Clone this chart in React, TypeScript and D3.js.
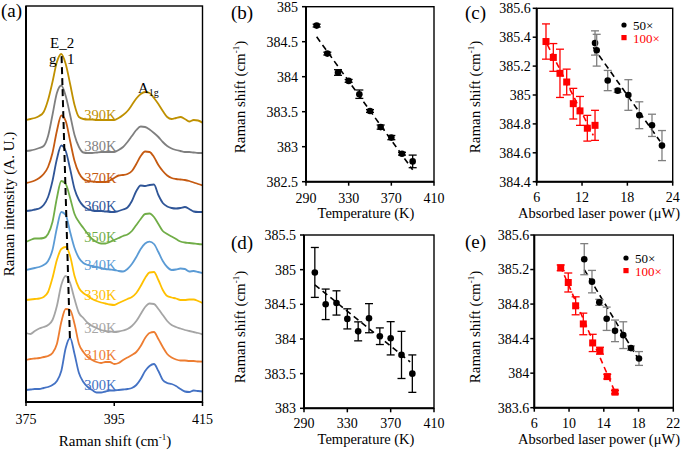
import React from 'react';
import * as d3 from 'd3';

const FONT = '"Liberation Serif", "Times New Roman", Times, serif';

// ---------- (a) stacked Raman spectra ----------
const shiftGrid = [
  375, 376, 377, 378, 379, 380, 381, 382, 383, 384, 385, 386, 387, 388, 389, 390, 391, 392, 393, 394, 395,
  396, 397, 398, 399, 400, 401, 402, 403, 404, 405, 406, 407, 408, 409, 410, 411, 412, 413, 414, 415,
];
const tempLabels = ['300K', '310K', '320K', '330K', '340K', '350K', '360K', '370K', '380K', '390K'];
const tempColors = ['#4472C4', '#ED7D31', '#A5A5A5', '#FFC000', '#5B9BD5', '#70AD47', '#2F5597', '#C55A11', '#7F7F7F', '#BF9000'];
const stackOffsets = [12, 42, 69, 102, 132, 160, 191, 219, 251, 282];

const spec300 = [0, 0.5, 1, 1, 2, 3, 5, 9, 19, 42, 52, 36, 17, 8, 3, 0, -2.5, -2.5, -1.5, -0.5, -0.5, 0, 0.5, 1, 2, 5, 11, 19, 24, 26, 19, 10, 7, 6, 4, 1, -1.5, -2, -0.5, -1, -1.5];
const spec310 = [0, 1, 1.5, 2, 3, 4, 7, 16, 38, 51, 50, 36, 16, 8, 3, 0, -2, -3, -2, -2, -4, -3, 0, 2.5, 5, 8, 14, 22, 27, 28, 21, 13, 6, 2.5, 0.5, -0.5, -0.5, -1, -1, -1.5, -1.7];
const spec320 = [0, -1, 2, 4.5, 6, 8, 13, 27, 48, 57, 50, 34, 20, 15, 10, 7, 5, 3, 2, 1.5, 1, 1.5, 2.5, 4, 7, 12, 19, 26, 29.5, 29, 24, 18, 12, 8, 6, 4.5, 3, 2, 1, 0, -1.3];
const spec330 = [0, 0.5, 1, 1.5, 3, 8, 22, 40, 51, 53, 44, 24, 12, 7, 4, 1, -1, -2.5, -3.5, -4.5, -5, -3, -1, 1, 3, 7, 14, 22, 27.5, 28, 20, 10, 4, 2.5, 1.5, 0, 0, 0.5, 0.5, -1, -3];
const spec340 = [0, 1, 2, 3, 5, 9, 20, 42, 58, 55, 38, 22, 12, 7, 5, 4, 3, 2, 1, 0.5, 0, -1, -1.5, 1, 6, 13, 21, 26.5, 28.3, 26, 18, 9, 3, 0, 0.5, 1.5, 1, -1.5, -1, -2, -3];
const spec350 = [0, 2, 3.5, 3.5, 4, 8, 20, 44, 61, 58, 44, 28, 20, 14, 8, 3, 0, -1.5, -1.5, 0, 2, 4, 6, 7.5, 11, 17, 23, 28, 28.5, 25, 18, 11, 8, 5.5, 3, 0.5, -0.5, -1, -1.5, -2, -2.3];
const spec360 = [0, 0.5, 1.5, 2.5, 6, 14, 30, 52, 65.5, 60, 42, 22, 11, 5, 2, 0.5, 0, 0, -0.5, -1, -1, 0, 1.5, 3.5, 10, 20, 25.5, 25, 26, 26.5, 16, 8, 4.5, 3, 2.5, 3, 4, 2, -0.5, -1, -1];
const spec370 = [0, 1, 2.5, 5, 9, 16, 30, 52, 67.5, 62, 42, 22, 10, 4, 2, 1.5, 1, 1, 1, 2.5, 5, 7.5, 8, 9, 12, 19, 27, 31.5, 31, 26, 18, 12, 7.5, 5, 4, 3.5, 3, 2, 0.5, -1, -2.3];
const spec380 = [0, 0.5, 1.5, 3, 5, 15, 36, 58, 65.5, 55, 36, 16, 4, -1.5, -2, -2, -1.5, -1, -1, -1, -1, 1, 4, 9, 15, 21, 24.5, 24, 21.5, 18, 14, 9, 5, 2.5, 1, 0, -1, -1, -1.5, -2, -2];
const spec390 = [0, 1, 2, 4, 8, 20, 38, 58, 66, 56, 36, 15, 3, 1, 0.5, 0.5, 0, 0, 0, 0, 0, 2, 5, 9, 15, 21.5, 26, 28, 27, 22, 16, 9, 3, 1, 2, 3, 1, -1.5, 0, -0.5, -2.7];
const spectra = [spec300, spec310, spec320, spec330, spec340, spec350, spec360, spec370, spec380, spec390];

const peakTrackShift = [384.95, 383.05];
const peakTrackLevel = [64, 348];
const xTicksA = [375, 395, 415];

// ---------- (b) temperature series ----------
const tempsB = [300, 310, 320, 330, 340, 350, 360, 370, 380, 390];
const shiftB = [384.73, 384.33, 384.06, 383.94, 383.75, 383.51, 383.28, 383.13, 382.9, 382.79];
const errB = [0.02, 0.02, 0.04, 0.02, 0.06, 0.02, 0.03, 0.03, 0.02, 0.09];
const fitB_T = [300, 390];
const fitB_S = [384.57, 382.67];
const yTicksB = [382.5, 383, 383.5, 384, 384.5, 385];
const xTicksT = [290, 330, 370, 410];

// ---------- (c) laser power series ----------
const powC50 = [13.72, 13.94, 15.4, 16.72, 18.13, 19.58, 21.26, 22.58];
const shiftC50 = [385.36, 385.31, 385.1, 385.03, 385.0, 384.86, 384.79, 384.65];
const errC50 = [0.084, 0.11, 0.07, 0.012, 0.106, 0.093, 0.077, 0.104];
const powC100 = [7.23, 8.2, 9.08, 9.97, 10.84, 11.73, 12.7, 13.72];
const shiftC100 = [385.37, 385.26, 385.15, 385.09, 384.94, 384.89, 384.77, 384.79];
const errC100 = [0.122, 0.096, 0.167, 0.089, 0.106, 0.1, 0.089, 0.104];
const fitC50_P = [13.49, 22.32];
const fitC50_S = [385.33, 384.68];
const fitC100_P = [7.4, 13.49];
const fitC100_S = [385.35, 384.72];
const yTicksC = [384.4, 384.6, 384.8, 385, 385.2, 385.4, 385.6];
const xTicksC = [6, 12, 18, 24];

// ---------- (d) temperature series ----------
const tempsD = [300, 310, 320, 330, 340, 350, 360, 370, 380, 390];
const shiftD = [384.96, 384.5, 384.52, 384.29, 384.11, 384.3, 384.04, 384.01, 383.77, 383.5];
const errD = [0.36, 0.22, 0.175, 0.145, 0.137, 0.21, 0.12, 0.24, 0.34, 0.27];
const fitD_T = [300, 388];
const fitD_S = [384.78, 383.67];
const yTicksD = [383, 383.5, 384, 384.5, 385, 385.5];

// ---------- (e) laser power series ----------
const powE50 = [11.75, 12.64, 13.48, 14.33, 15.29, 16.24, 17.13, 18.05];
const shiftE50 = [385.32, 385.06, 384.82, 384.63, 384.49, 384.44, 384.29, 384.17];
const errE50 = [0.18, 0.13, 0.035, 0.135, 0.125, 0.155, 0.025, 0.08];
const powE100 = [9.04, 9.91, 10.76, 11.64, 12.72, 13.56, 14.4, 15.29];
const shiftE100 = [385.22, 385.05, 384.78, 384.57, 384.35, 384.26, 383.96, 383.78];
const errE100 = [0.033, 0.11, 0.104, 0.125, 0.1, 0.04, 0.027, 0.02];
const fitE50_P = [11.75, 18.05];
const fitE50_S = [385.2, 384.15];
const fitE100_P = [9.0, 15.3];
const fitE100_S = [385.24, 383.78];
const yTicksE = [383.6, 384, 384.4, 384.8, 385.2, 385.6];
const xTicksE = [6, 10, 14, 18, 22];

const legendLabels = ['50×', '100×'];

type Lin = d3.ScaleLinear<number, number>;

function Frame({ x, y }: { x: Lin; y: Lin }) {
  const [x0, x1] = x.range();
  const [y0, y1] = y.range();
  return (
    <g>
      <rect x={x0} y={y1} width={x1 - x0} height={y0 - y1} fill="none" stroke="#000" strokeWidth={1.4} />
      <line x1={x0} x2={x0} y1={y1} y2={y0 + 1} stroke="#000" strokeWidth={2} />
      <line x1={x0 - 1} x2={x1} y1={y0} y2={y0} stroke="#000" strokeWidth={2} />
    </g>
  );
}

function XAxis({ x, y, ticks, labelY }: { x: Lin; y: Lin; ticks: number[]; labelY: number }) {
  const y0 = y.range()[0];
  return (
    <g>
      {ticks.map((t) => (
        <g key={t}>
          <line x1={x(t)} x2={x(t)} y1={y0} y2={y0 + 4} stroke="#000" strokeWidth={1.5} />
          <text x={x(t)} y={labelY} textAnchor="middle" fontSize={14}>{String(t)}</text>
        </g>
      ))}
    </g>
  );
}

function YAxis({ x, y, ticks, gap }: { x: Lin; y: Lin; ticks: number[]; gap: number }) {
  const x0 = x.range()[0];
  return (
    <g>
      {ticks.map((t) => (
        <g key={t}>
          <line x1={x0 - 4} x2={x0} y1={y(t)} y2={y(t)} stroke="#000" strokeWidth={1.5} />
          <text x={x0 - gap} y={y(t)} dy="0.35em" textAnchor="end" fontSize={14}>{String(t)}</text>
        </g>
      ))}
    </g>
  );
}

function ErrSeries({ x, y, xs, ys, es, color, barColor, square }: {
  x: Lin; y: Lin; xs: number[]; ys: number[]; es: number[]; color: string; barColor: string; square?: boolean;
}) {
  return (
    <g>
      {xs.map((v, i) => {
        const cx = x(v);
        const top = y(ys[i] + es[i]);
        const bot = y(ys[i] - es[i]);
        return (
          <g key={i}>
            <line x1={cx} x2={cx} y1={top} y2={bot} stroke={barColor} strokeWidth={1.3} />
            <line x1={cx - 4} x2={cx + 4} y1={top} y2={top} stroke={barColor} strokeWidth={1.3} />
            <line x1={cx - 4} x2={cx + 4} y1={bot} y2={bot} stroke={barColor} strokeWidth={1.3} />
            {square ? (
              <rect x={cx - 3.5} y={y(ys[i]) - 3.5} width={7} height={7} fill={color} />
            ) : (
              <circle cx={cx} cy={y(ys[i])} r={3.3} fill={color} />
            )}
          </g>
        );
      })}
    </g>
  );
}

function Fit({ x, y, xs, ys, color }: { x: Lin; y: Lin; xs: number[]; ys: number[]; color: string }) {
  const line = d3.line<number>().x((v) => x(v)).y((_, i) => y(ys[i]));
  return <path d={line(xs) || ''} fill="none" stroke={color} strokeWidth={1.6} strokeDasharray="6,4" />;
}

function CmTitle({ x, y }: { x: number; y: number }) {
  return (
    <text transform={`translate(${x},${y}) rotate(-90)`} textAnchor="middle" fontSize={15}>
      Raman shift (cm<tspan fontSize={9} dy={-6}>-1</tspan><tspan dy={6}>)</tspan>
    </text>
  );
}

function Legend({ x, y }: { x: number; y: number }) {
  return (
    <g>
      <circle cx={x} cy={y} r={2.6} fill="#000" />
      <text x={x + 9} y={y + 4.5} fontSize={13}>{legendLabels[0]}</text>
      <rect x={x - 2.6} y={y + 10} width={5.2} height={5.2} fill="#FF0000" />
      <text x={x + 9} y={y + 18} fontSize={13} fill="#FF0000">{legendLabels[1]}</text>
    </g>
  );
}

export default function App() {
  // (a)
  const xA = d3.scaleLinear().domain([375, 415]).range([26, 202.5]);
  const yA = d3.scaleLinear().domain([0, 396]).range([402, 6]);
  // (b)
  const xB = d3.scaleLinear().domain([290, 410]).range([306, 434]);
  const yB = d3.scaleLinear().domain([382.5, 385]).range([181.7, 6.7]);
  // (c)
  const xC = d3.scaleLinear().domain([6, 24]).range([536.7, 672.7]);
  const yC = d3.scaleLinear().domain([384.4, 385.6]).range([181.7, 8.3]);
  // (d)
  const xD = d3.scaleLinear().domain([290, 410]).range([304, 434]);
  const yD = d3.scaleLinear().domain([383, 385.5]).range([408.3, 235]);
  // (e)
  const xE = d3.scaleLinear().domain([6, 22]).range([534.3, 673.3]);
  const yE = d3.scaleLinear().domain([383.6, 385.6]).range([407.7, 235]);

  const specLine = (vals: number[], off: number) =>
    d3.line<number>()
      .x((_, i) => xA(shiftGrid[i]))
      .y((v) => yA(off + v))
      .curve(d3.curveMonotoneX)(vals) || '';

  const track = d3.line<number>().x((v) => xA(v)).y((_, i) => yA(peakTrackLevel[i]));

  return (
    <svg
      width={685}
      height={453}
      style={{ position: 'absolute', left: 0, top: 0, background: '#fff', fontFamily: FONT }}
    >
      <rect width={685} height={453} fill="#fff" />

      {/* (a) */}
      {spectra.map((s, i) => (
        <path key={i} d={specLine(s, stackOffsets[i])} fill="none" stroke={tempColors[i]} strokeWidth={1.8} />
      ))}
      <path d={track(peakTrackShift) || ''} fill="none" stroke="#000" strokeWidth={2} strokeDasharray="7,4" />
      {tempLabels.map((t, i) => (
        <text key={t} x={xA(388.2)} y={yA(stackOffsets[i])} fontSize={14.5} fill={tempColors[i]}>{t}</text>
      ))}
      <text x={50} y={48} fontSize={15}>E_2</text>
      <text x={49} y={64} fontSize={15}>g</text>
      <text x={67} y={64} fontSize={15}>1</text>
      <text x={138} y={93} fontSize={15}>A<tspan fontSize={10} dy={3}>1g</tspan></text>
      <Frame x={xA} y={yA} />
      <XAxis x={xA} y={yA} ticks={xTicksA} labelY={424} />
      <text x={115} y={446} textAnchor="middle" fontSize={15}>
        Raman shift (cm<tspan fontSize={9} dy={-6}>-1</tspan><tspan dy={6}>)</tspan>
      </text>
      <text transform="translate(14,204) rotate(-90)" textAnchor="middle" fontSize={15}>Raman intensity (A. U.)</text>
      <text x={1} y={17} fontSize={19}>(a)</text>

      {/* (b) */}
      <Fit x={xB} y={yB} xs={fitB_T} ys={fitB_S} color="#000" />
      <ErrSeries x={xB} y={yB} xs={tempsB} ys={shiftB} es={errB} color="#000" barColor="#000" />
      <Frame x={xB} y={yB} />
      <YAxis x={xB} y={yB} ticks={yTicksB} gap={8} />
      <XAxis x={xB} y={yB} ticks={xTicksT} labelY={202.5} />
      <text x={366} y={218} textAnchor="middle" fontSize={14.5}>Temperature (K)</text>
      <CmTitle x={245} y={97} />
      <text x={231} y={19} fontSize={19}>(b)</text>

      {/* (c) */}
      <Fit x={xC} y={yC} xs={fitC50_P} ys={fitC50_S} color="#000" />
      <Fit x={xC} y={yC} xs={fitC100_P} ys={fitC100_S} color="#FF0000" />
      <ErrSeries x={xC} y={yC} xs={powC100} ys={shiftC100} es={errC100} color="#FF0000" barColor="#FF0000" square />
      <ErrSeries x={xC} y={yC} xs={powC50} ys={shiftC50} es={errC50} color="#000" barColor="#7F7F7F" />
      <Legend x={624} y={25} />
      <Frame x={xC} y={yC} />
      <YAxis x={xC} y={yC} ticks={yTicksC} gap={6} />
      <XAxis x={xC} y={yC} ticks={xTicksC} labelY={202} />
      <text x={599} y={218} textAnchor="middle" fontSize={14.5}>Absorbed laser power (μW)</text>
      <CmTitle x={480} y={97} />
      <text x={465} y={19} fontSize={19}>(c)</text>

      {/* (d) */}
      <Fit x={xD} y={yD} xs={fitD_T} ys={fitD_S} color="#000" />
      <ErrSeries x={xD} y={yD} xs={tempsD} ys={shiftD} es={errD} color="#000" barColor="#000" />
      <Frame x={xD} y={yD} />
      <YAxis x={xD} y={yD} ticks={yTicksD} gap={8} />
      <XAxis x={xD} y={yD} ticks={xTicksT} labelY={428} />
      <text x={366} y={444} textAnchor="middle" fontSize={14.5}>Temperature (K)</text>
      <CmTitle x={245} y={327} />
      <text x={231} y={249} fontSize={19}>(d)</text>

      {/* (e) */}
      <Fit x={xE} y={yE} xs={fitE50_P} ys={fitE50_S} color="#000" />
      <Fit x={xE} y={yE} xs={fitE100_P} ys={fitE100_S} color="#FF0000" />
      <ErrSeries x={xE} y={yE} xs={powE100} ys={shiftE100} es={errE100} color="#FF0000" barColor="#FF0000" square />
      <ErrSeries x={xE} y={yE} xs={powE50} ys={shiftE50} es={errE50} color="#000" barColor="#7F7F7F" />
      <Legend x={626} y={258} />
      <Frame x={xE} y={yE} />
      <YAxis x={xE} y={yE} ticks={yTicksE} gap={5} />
      <XAxis x={xE} y={yE} ticks={xTicksE} labelY={428} />
      <text x={599} y={444} textAnchor="middle" fontSize={14.5}>Absorbed laser power (μW)</text>
      <CmTitle x={480} y={327} />
      <text x={465} y={248} fontSize={19}>(e)</text>
    </svg>
  );
}
